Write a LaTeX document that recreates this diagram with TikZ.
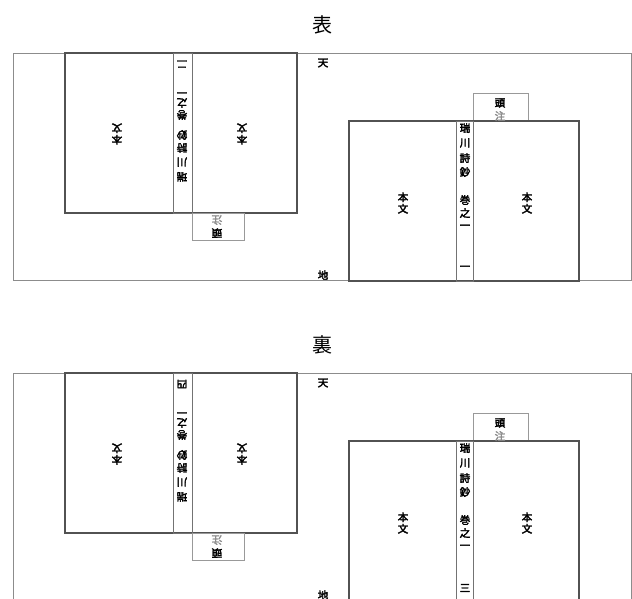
\documentclass[tikz,border=0pt]{standalone}
\usepackage{fontspec}
\newfontfamily\cjk{Noto Sans CJK JP}
\newfontfamily\cjkb[FakeBold=3]{Noto Sans CJK JP}
\tikzset{
  frame/.style={draw=black!45, line width=0.9pt, inner sep=0pt, outer sep=0pt, anchor=north west},
  sheet/.style={draw=black!68, line width=1.1pt, inner sep=0pt, outer sep=0pt, anchor=north west},
  spine/.style={draw=black!55, line width=0.7pt, inner sep=0pt, outer sep=0pt, anchor=north west},
  headbox/.style={draw=black!40, line width=0.7pt, inner sep=0pt, outer sep=0pt, anchor=north west},
  lab/.style={font=\cjkb\fontsize{10.5}{11.5}\selectfont, inner sep=0pt, align=center},
  labr/.style={lab, rotate=180},
  faint/.style={text=black!45},
  ttl/.style={font=\cjk\fontsize{20}{20}\selectfont, inner sep=0pt},
}
\newcommand\sheetpair[3]{%
  \node[ttl] (title) at (322,-25) {#1};
  \node[frame, minimum width=618pt, minimum height=227pt] (frame) at (13,-53) {};
  % left sheet (upside down)
  \node[sheet, minimum width=232pt, minimum height=160pt] (ls) at (65,-53) {};
  \node[spine, minimum width=19pt, minimum height=160pt] (lsp) at (173,-53) {};
  \node[headbox, minimum width=52pt, minimum height=27pt] (lhb) at (192,-213) {};
  \node[labr] (lbl) at (117,-134) {本\\文};
  \node[labr] (lbr) at (242,-134) {本\\文};
  \node[labr, faint] (lh2) at (217,-220) {注};
  \node[labr] (lh1) at (217,-233) {頭};
  \node[labr] (lnum) at (182,-64) {#2};
  \node[labr] (lc7) at (182,-91) {一};
  \node[labr] (lc6) at (182,-103) {之};
  \node[labr] (lc5) at (182,-115) {巻};
  \node[labr] (lc4) at (182,-135) {鈔};
  \node[labr] (lc3) at (182,-148) {詩};
  \node[labr] (lc2) at (182,-162) {川};
  \node[labr] (lc1) at (182,-177) {瑞};
  % labels
  \node[lab] (ten) at (323,-63) {天};
  \node[lab] (chi) at (323,-275) {地};
  % right sheet
  \node[headbox, minimum width=55pt, minimum height=28pt] (rhb) at (473,-93) {};
  \node[sheet, minimum width=230pt, minimum height=160pt] (rs) at (349,-121) {};
  \node[spine, minimum width=17pt, minimum height=160pt] (rsp) at (456,-121) {};
  \node[lab] (rh1) at (500,-103) {頭};
  \node[lab, faint] (rh2) at (500,-116) {注};
  \node[lab] (rbl) at (403,-203) {本\\文};
  \node[lab] (rbr) at (527,-203) {本\\文};
  \node[lab] (rc1) at (465,-128) {瑞};
  \node[lab] (rc2) at (465,-143) {川};
  \node[lab] (rc3) at (465,-158) {詩};
  \node[lab] (rc4) at (465,-172) {鈔};
  \node[lab] (rc5) at (465,-200) {巻};
  \node[lab] (rc6) at (465,-213) {之};
  \node[lab] (rc7) at (465,-227) {一};
  \node[lab] (rnum) at (465,-268) {#3};
}
\begin{document}
\begin{tikzpicture}[x=1pt,y=1pt]
  \useasboundingbox (0,0) rectangle (632,-598);
  \clip (0,0) rectangle (632,-598);
  \begin{scope}[name prefix=a-]
    \sheetpair{表}{二}{一}
  \end{scope}
  \begin{scope}[yshift=-320pt, name prefix=b-]
    \sheetpair{裏}{四}{三}
  \end{scope}
\end{tikzpicture}
\end{document}
